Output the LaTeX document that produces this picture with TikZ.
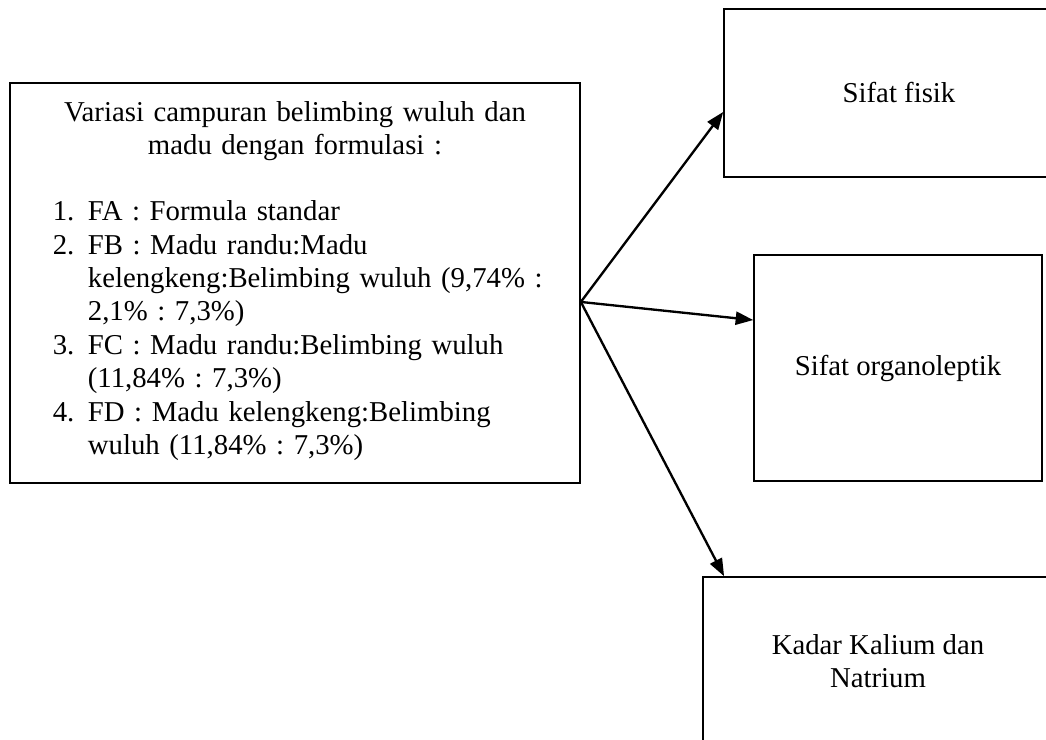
\documentclass[tikz,border=0pt]{standalone}
\usepackage{fontspec}
\setmainfont{Liberation Serif}
\usetikzlibrary{arrows.meta}
\frenchspacing

\begin{document}
\begin{tikzpicture}[x=0.4275pt,y=-0.4275pt,>=Triangle,
  kotak/.style={draw,line width=0.7pt,inner sep=0pt,font=\fontsize{12.3}{14.3}\selectfont},
  panah/.style={line width=1pt,-{Triangle[length=7.5pt,width=5.6pt]}}]
  \useasboundingbox (0,0) rectangle (1046,740);
  \clip (0,0) rectangle (1046,740);
  % kotak kiri: variasi formula
  \node[kotak,align=left,text width=243.7pt,minimum height=171pt] (variasi) at (295,283) {%
    {\centering Variasi campuran belimbing wuluh dan\\ madu dengan formulasi :\par}
    \vspace{14.5pt}
    \hspace*{18.3pt}\begin{tabular}{@{}p{15pt}@{}l@{}}
      1. & FA : Formula standar\\
      2. & FB : Madu randu:Madu\\
         & kelengkeng:Belimbing wuluh (9,74\% :\\
         & 2,1\% : 7,3\%)\\
      3. & FC : Madu randu:Belimbing wuluh\\
         & (11,84\% : 7,3\%)\\
      4. & FD : Madu kelengkeng:Belimbing\\
         & wuluh (11,84\% : 7,3\%)
    \end{tabular}};
  % kotak kanan
  \node[kotak,minimum width=149.6pt,minimum height=71.8pt] (fisik) at (899,93) {Sifat fisik};
  \node[kotak,minimum width=123.1pt,minimum height=96.6pt] (organo) at (898,368) {Sifat organoleptik};
  \node[kotak,align=center,minimum width=149.6pt,minimum height=71.8pt] (kadar) at (878,661)
    {Kadar Kalium dan\\ Natrium};
  \coordinate (pangkal) at ([yshift=-8.1pt]variasi.east);
  \draw[panah] (pangkal) -- ([yshift=-8.1pt]fisik.west);
  \draw[panah] (pangkal) -- ([yshift=20.5pt]organo.west);
  \draw[panah] (pangkal) -- ([xshift=-65.8pt]kadar.north);
\end{tikzpicture}
\end{document}
